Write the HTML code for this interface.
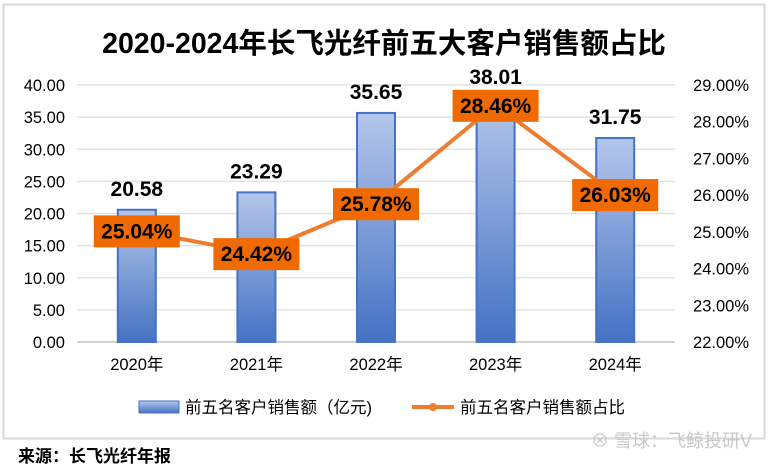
<!DOCTYPE html>
<html><head><meta charset="utf-8"><style>
body{margin:0;background:#fff;}
svg text{font-family:"Liberation Sans","Noto Sans CJK SC",sans-serif;}
</style></head><body>
<svg id="chart" width="768" height="468">
<defs>
<linearGradient id="barg" x1="0" y1="0" x2="0" y2="1">
<stop offset="0" stop-color="#b5c6ea"/><stop offset="1" stop-color="#4472c4"/>
</linearGradient>
</defs>
<rect x="3.5" y="4.5" width="761" height="434" fill="#fff" stroke="#d9d9d9" stroke-width="2"/>
<text x="384" y="53" text-anchor="middle" font-size="28.5" font-weight="bold" fill="#000">2020-2024年长飞光纤前五大客户销售额占比</text>
<g id="grid"></g><g id="bars"></g><g id="line"></g><g id="labels"></g>
<g>
<rect x="139" y="401" width="40" height="12" fill="url(#barg)" stroke="#4472c4"/>
<text x="185" y="413" font-size="16.5">前五名客户销售额（亿元)</text>
<line x1="412" y1="407" x2="454" y2="407" stroke="#ed7d31" stroke-width="4"/>
<circle cx="433" cy="407" r="4" fill="#ed7d31"/>
<text x="460" y="413" font-size="16.5">前五名客户销售额占比</text>
</g>
<text x="18" y="462" font-size="17" font-weight="bold">来源：长飞光纤年报</text>
<text x="752" y="447" text-anchor="end" font-size="18" fill="#c8c8c8">⊗ 雪球：飞鲸投研V</text>
</svg>
<script>
const categories=["2020年","2021年","2022年","2023年","2024年"];
const sales=[20.58,23.29,35.65,38.01,31.75];
const ratio=[25.04,24.42,25.78,28.46,26.03];
const leftTicks=[0,5,10,15,20,25,30,35,40];
const rightTicks=[22,23,24,25,26,27,28,29];
const NS="http://www.w3.org/2000/svg";
const L=77,R=675,T=85,B=342,cw=(R-L)/categories.length;
const yL=v=>B-(v-0)/40*(B-T);
const yR=v=>B-(v-22)/7*(B-T);
const xC=i=>L+cw*(i+0.5);
function mk(p,tag,a){const e=document.createElementNS(NS,tag);for(const k in a)e.setAttribute(k,a[k]);p.appendChild(e);return e;}
const g=document.getElementById('grid');
leftTicks.forEach(v=>{
 const l=mk(g,'line',{x1:L,x2:R,y1:yL(v),y2:yL(v),stroke:v===0?'#d0d0d0':'#e3e3e3','stroke-width':v===0?2:1.5});
 
 
 const t=mk(g,'text',{x:65,y:yL(v)+6,'text-anchor':'end','font-size':16.5});
 t.textContent=v.toFixed(2);
 
 
});
rightTicks.forEach(v=>{
 const t=mk(g,'text',{x:749,y:yR(v)+6,'text-anchor':'end','font-size':16.5});
 t.textContent=v.toFixed(2)+'%';
 
 
});
categories.forEach((c,i)=>{
 const t=mk(g,'text',{x:xC(i),y:370,'text-anchor':'middle','font-size':16.5});
 t.textContent=c;
 
 
});
const bg=document.getElementById('bars');const lb=document.getElementById('labels');
sales.forEach((v,i)=>{
 const r=mk(bg,'rect',{x:xC(i)-19,y:yL(v),width:38,height:B-yL(v),fill:'url(#barg)',stroke:'#4472c4','stroke-width':2});
 
 
 const t=mk(lb,'text',{x:xC(i),y:yL(v)-14,'text-anchor':'middle','font-size':21,'font-weight':'bold'});
 t.textContent=v.toFixed(2);
 
 
});
const pts=ratio.map((v,i)=>xC(i)+','+yR(v)).join(' ');
const pl=mk(document.getElementById('line'),'polyline',{points:pts,fill:'none',stroke:'#ed7d31','stroke-width':4,'stroke-linejoin':'round'});


ratio.forEach((v,i)=>{
 const x=xC(i),y=yR(v);
 const r=mk(lb,'rect',{x:x-43,y:y-15,width:86,height:32,fill:'#f06a00'});
 
 
 const t=mk(lb,'text',{x:x,y:y+8,'text-anchor':'middle','font-size':21,'font-weight':'bold'});
 t.textContent=v.toFixed(2)+'%';
 
 
});
</script>
</body></html>
